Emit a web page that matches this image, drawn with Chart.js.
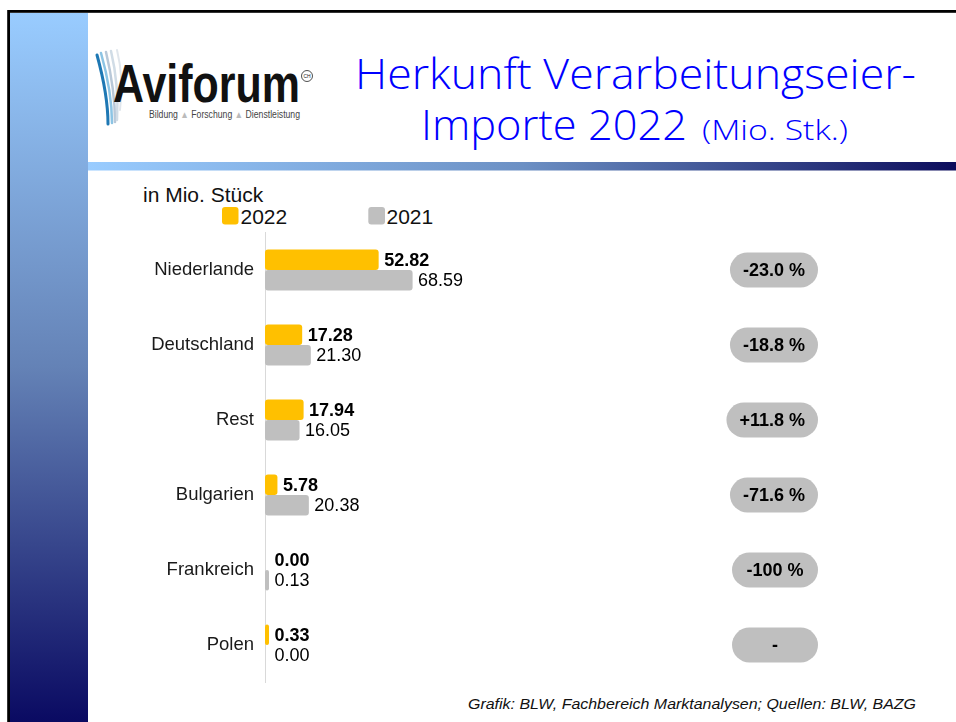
<!DOCTYPE html>
<html>
<head>
<meta charset="utf-8">
<script src="https://cdn.jsdelivr.net/npm/chart.js@4.4.1/dist/chart.umd.min.js"></script>
<style>
  html, body { margin: 0; padding: 0; background: #fff; }
  #page { position: relative; width: 956px; height: 722px; overflow: hidden; }
  #page svg, #page canvas { position: absolute; left: 0; top: 0; }
</style>
</head>
<body>
<div id="page">
  <svg width="956" height="722" font-family="'Liberation Sans', Arial, sans-serif">
    <defs>
      <linearGradient id="sideGrad" x1="0" y1="0" x2="0" y2="1">
        <stop offset="0" stop-color="#99CCFF"/>
        <stop offset="0.5" stop-color="#6482B6"/>
        <stop offset="1" stop-color="#0A0A62"/>
      </linearGradient>
      <linearGradient id="lineGrad" x1="0" y1="0" x2="1" y2="0">
        <stop offset="0" stop-color="#99CCFF"/>
        <stop offset="0.5" stop-color="#6C90C4"/>
        <stop offset="1" stop-color="#0C0C5C"/>
      </linearGradient>
    </defs>
    <rect x="10" y="13" width="78" height="709" fill="url(#sideGrad)"/>
    <rect x="88" y="162" width="868" height="8.5" fill="url(#lineGrad)"/>
    <rect x="8.6" y="11.4" width="960" height="720" fill="none" stroke="#000" stroke-width="2.8"/>

    <!-- logo -->
    <g fill="none" stroke-linecap="round">
      <path d="M97 55 Q108 95 108 124" stroke="#1E78B4" stroke-width="3"/>
      <path d="M101 53 Q112 92 112 123" stroke="#8CC4E4" stroke-width="2.5"/>
      <path d="M106 52 Q115 90 115 122" stroke="#B8C8D8" stroke-width="2.5"/>
      <path d="M111 51 Q119 85 117 120" stroke="#D0DCE6" stroke-width="2.5"/>
      <path d="M117 50 Q124 78 120 110" stroke="#E0E6EC" stroke-width="2"/>
    </g>
    <text x="113" y="102" font-size="53" font-weight="bold" fill="#111" textLength="187" lengthAdjust="spacingAndGlyphs">Aviforum</text>
    <circle cx="307" cy="76" r="5.5" fill="none" stroke="#222" stroke-width="0.8"/>
    <text x="307" y="78" font-size="5" text-anchor="middle" fill="#222">CH</text>
    <text x="149" y="118" font-size="10" fill="#444" textLength="151" lengthAdjust="spacingAndGlyphs">Bildung <tspan fill="#bbb">▲</tspan> Forschung <tspan fill="#bbb">▲</tspan> Dienstleistung</text>

    <!-- title -->
    <g font-family="'Open Sans', 'DejaVu Sans', sans-serif" font-weight="300" fill="#0000FF">
      <text x="355" y="89" font-size="43" textLength="561" lengthAdjust="spacingAndGlyphs">Herkunft Verarbeitungseier-</text>
      <text x="421" y="140" font-size="43" textLength="266" lengthAdjust="spacingAndGlyphs">Importe 2022</text>
      <text x="702" y="140" font-size="28" textLength="146" lengthAdjust="spacingAndGlyphs">(Mio. Stk.)</text>
    </g>

    <!-- unit + legend -->
    <text x="143" y="202" font-size="21" fill="#111">in Mio. Stück</text>
    <rect x="222" y="207" width="16.5" height="17.5" rx="3" fill="#FFC000"/>
    <text x="240.5" y="223.5" font-size="21" fill="#111">2022</text>
    <rect x="368.3" y="207" width="16.7" height="17.5" rx="3" fill="#BFBFBF"/>
    <text x="386.5" y="223.5" font-size="21" fill="#111">2021</text>

    <!-- source -->
    <text x="468" y="709" font-size="15.5" font-style="italic" fill="#111" textLength="448" lengthAdjust="spacingAndGlyphs">Grafik: BLW, Fachbereich Marktanalysen; Quellen: BLW, BAZG</text>
  </svg>
  <canvas id="chart" width="956" height="722"></canvas>
</div>

<script>
const countries = ['Niederlande', 'Deutschland', 'Rest', 'Bulgarien', 'Frankreich', 'Polen'];
const imports2022 = [52.82, 17.28, 17.94, 5.78, 0.00, 0.33];
const imports2021 = [68.59, 21.30, 16.05, 20.38, 0.13, 0.00];
const changes = ['-23.0 %', '-18.8 %', '+11.8 %', '-71.6 %', '-100 %', '-'];

const FONT = "'Liberation Sans', Arial, sans-serif";

// kleine Werte als sichtbarer Stummel, Werte-Labels und Prozent-Pillen
const barExtras = {
  id: 'barExtras',
  afterDatasetsUpdate(chart) {
    chart.data.datasets.forEach((ds, i) => {
      chart.getDatasetMeta(i).data.forEach((el, j) => {
        if (ds.data[j] > 0 && el.x - el.base < 4) el.x = el.base + 4;
      });
    });
  },
  afterDatasetsDraw(chart) {
    const ctx = chart.ctx;
    ctx.save();
    ctx.textBaseline = 'middle';
    ctx.fillStyle = '#000';
    chart.data.datasets.forEach((ds, i) => {
      ctx.font = (i === 0 ? 'bold ' : '') + '18px ' + FONT;
      ctx.textAlign = 'left';
      chart.getDatasetMeta(i).data.forEach((el, j) => {
        const x = Math.max(el.x, el.base + 4) + 5.5;
        ctx.fillText(ds.data[j].toFixed(2), x, el.y + 1);
      });
    });

    const right = chart.chartArea.right;
    ctx.font = 'bold 18px ' + FONT;
    changes.forEach((t, i) => {
      const y = chart.scales.y.getPixelForValue(i);
      const w = Math.max(86, ctx.measureText(t).width + 26);
      ctx.fillStyle = '#BFBFBF';
      ctx.beginPath();
      ctx.roundRect(right - w, y - 17.5, w, 35, 17.5);
      ctx.fill();
      ctx.fillStyle = '#000';
      ctx.textAlign = 'center';
      ctx.fillText(t, right - w / 2, y + 1);
    });
    ctx.restore();
  }
};

new Chart(document.getElementById('chart'), {
  type: 'bar',
  data: {
    labels: countries,
    datasets: [
      { label: '2022', data: imports2022, backgroundColor: '#FFC000' },
      { label: '2021', data: imports2021, backgroundColor: '#BFBFBF' }
    ]
  },
  options: {
    indexAxis: 'y',
    responsive: false,
    animation: false,
    devicePixelRatio: 1,
    layout: { padding: { left: 145, right: 138, top: 232.5, bottom: 39.5 } },
    datasets: {
      bar: { categoryPercentage: 0.547, barPercentage: 1, borderRadius: 3, borderSkipped: false }
    },
    plugins: { legend: { display: false }, tooltip: { enabled: false } },
    scales: {
      x: { display: false, min: 0, max: 257 },
      y: {
        grid: { display: false, drawTicks: false },
        border: { display: true, color: '#d9d9d9', width: 1 },
        ticks: { color: '#1a1a1a', font: { family: FONT, size: 18.5 }, padding: 11 },
        afterFit(s) { s.width = 120; }
      }
    }
  },
  plugins: [barExtras]
});
</script>
</body>
</html>
